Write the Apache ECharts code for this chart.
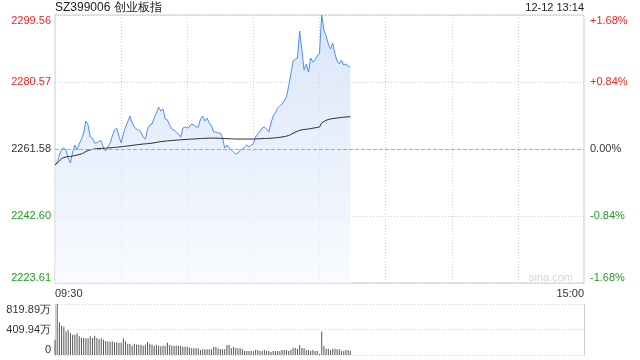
<!DOCTYPE html>
<html><head><meta charset="utf-8">
<script src="https://cdn.jsdelivr.net/npm/echarts@6/dist/echarts.min.js"></script>
<style>html,body{margin:0;padding:0;background:#fff}#c{width:640px;height:360px}</style>
</head><body><div id="c"></div>
<script>
const titleText = 'SZ399006 创业板指';
const dateText = '12-12 13:14';
const watermark = 'sina.com';
const prevClose = 2261.58;
const priceMin = 2223.61;
const priceMax = 2299.56;
const priceTickLabels = ['2223.61', '2242.60', '2261.58', '2280.57', '2299.56'];
const pctTickLabels = ['-1.68%', '-0.84%', '0.00%', '+0.84%', '+1.68%'];
const tickClasses = ['dn', 'dn', 'mid', 'up', 'up'];
const volMax = 819.89;
const volTickLabels = ['0', '409.94万', '819.89万'];
const timeTickLabels = ['09:30', '15:00'];

const price = [
2257.05,2257.90,2259.88,2261.58,2261.86,2261.30,2259.03,2257.61,2260.73,2262.71,
2261.30,2263.00,2264.41,2266.11,2269.52,2268.38,2264.98,2264.70,2263.28,2263.28,
2263.85,2263.85,2261.86,2261.01,2262.15,2263.28,2265.26,2266.96,2267.53,2265.26,
2263.28,2265.83,2267.81,2269.23,2270.93,2268.95,2267.81,2267.25,2266.96,2266.40,
2264.98,2264.41,2267.25,2268.38,2268.67,2270.37,2271.78,2273.48,2272.35,2272.92,
2270.08,2269.80,2268.38,2267.25,2266.96,2266.40,2265.83,2264.98,2267.53,2267.81,
2267.53,2267.81,2268.67,2268.38,2267.81,2267.81,2270.08,2270.93,2269.52,2270.37,
2268.95,2268.10,2266.40,2266.40,2266.11,2266.11,2264.70,2261.86,2262.71,2261.86,
2261.30,2260.73,2260.16,2260.45,2261.30,2261.58,2262.15,2262.71,2262.15,2262.71,
2263.00,2264.98,2265.83,2266.68,2267.53,2267.81,2267.25,2266.40,2268.95,2270.93,
2271.78,2273.20,2273.77,2274.33,2275.18,2276.32,2279.43,2282.84,2286.52,2287.09,
2287.37,2295.02,2289.64,2283.97,2285.67,2283.40,2287.37,2286.24,2286.80,2287.94,
2288.79,2299.56,2295.30,2293.60,2291.34,2289.92,2291.62,2288.50,2286.52,2285.67,
2286.80,2285.39,2285.67,2285.10,2284.82
];
const avgPrice = [
2257.05,2257.61,2258.18,2258.89,2259.17,2259.31,2259.45,2259.45,2259.60,2259.74,
2259.88,2260.02,2260.22,2260.50,2260.87,2261.15,2261.35,2261.49,2261.58,2261.67,
2261.72,2261.75,2261.78,2261.81,2261.86,2261.92,2261.98,2262.03,2262.09,2262.15,
2262.20,2262.29,2262.37,2262.43,2262.52,2262.60,2262.69,2262.77,2262.86,2262.91,
2263.00,2263.05,2263.11,2263.17,2263.25,2263.34,2263.45,2263.56,2263.68,2263.76,
2263.82,2263.88,2263.93,2263.99,2264.05,2264.10,2264.13,2264.19,2264.24,2264.27,
2264.33,2264.36,2264.41,2264.44,2264.47,2264.50,2264.56,2264.58,2264.61,2264.64,
2264.67,2264.67,2264.67,2264.67,2264.64,2264.61,2264.58,2264.56,2264.53,2264.50,
2264.47,2264.44,2264.41,2264.41,2264.41,2264.41,2264.41,2264.41,2264.41,2264.41,
2264.41,2264.44,2264.47,2264.50,2264.53,2264.56,2264.58,2264.61,2264.64,2264.70,
2264.75,2264.81,2264.90,2264.98,2265.09,2265.24,2265.41,2265.69,2266.06,2266.34,
2266.62,2266.88,2267.02,2267.11,2267.19,2267.25,2267.36,2267.47,2267.59,2267.70,
2267.81,2268.95,2269.37,2269.71,2269.94,2270.08,2270.20,2270.28,2270.37,2270.45,
2270.54,2270.59,2270.65,2270.71,2270.73
];
const volume = [
246,819.89,525,472,456,380,397,354,327,327,
348,300,279,273,268,268,300,273,311,273,
252,268,246,225,220,214,220,204,204,198,
198,268,220,182,177,150,182,166,161,166,
150,166,214,182,166,150,166,150,139,150,
150,198,161,150,150,150,150,150,134,134,
134,118,107,107,107,107,80,91,91,91,
91,91,129,129,107,96,91,91,161,161,
107,129,113,107,107,91,64,64,64,64,
64,80,80,64,64,80,64,64,48,64,
64,64,64,80,80,80,64,80,113,113,
102,161,113,113,80,80,64,80,64,64,
16,375,145,102,102,80,102,102,91,91,
64,64,80,80,64
];

// 241 minute slots: 09:30..11:30, 13:01..15:00
const times = [];
function pad(n){return (n<10?'0':'')+n;}
for (let m = 9*60+30; m <= 11*60+30; m++) times.push(pad(Math.floor(m/60))+':'+pad(m%60));
for (let m = 13*60+1; m <= 15*60; m++) times.push(pad(Math.floor(m/60))+':'+pad(m%60));

const RED = '#f22222', GREEN = '#1e9e1e', DARK = '#333333';
const FONT = '"Liberation Sans", Arial, sans-serif';
const richStyles = {
  up: {color: RED, fontSize: 11, fontFamily: FONT},
  mid: {color: DARK, fontSize: 11, fontFamily: FONT},
  dn: {color: GREEN, fontSize: 11, fontFamily: FONT}
};
const priceInterval = (priceMax - priceMin) / 4;

const chart = echarts.init(document.getElementById('c'), null, {renderer: 'canvas'});
chart.setOption({
  animation: false,
  backgroundColor: '#fff',
  title: [
    {text: titleText, left: 55, top: 2, padding: 0, textStyle: {fontSize: 12, fontWeight: 'normal', color: '#222', fontFamily: FONT}},
    {text: dateText, right: 56, top: 2, padding: 0, textStyle: {fontSize: 11, fontWeight: 'normal', color: '#222', fontFamily: FONT}}
  ],
  graphic: [
    {type: 'text', right: 67, top: 272, style: {text: watermark, fontSize: 11, fill: '#d4d4d4', fontFamily: FONT}}
  ],
  grid: [
    {left: 55, right: 56, top: 15, height: 268, show: true, borderColor: '#cccccc', borderWidth: 1},
    {left: 55, right: 56, top: 304, height: 51}
  ],
  xAxis: [
    {
      type: 'category', gridIndex: 0, data: times, boundaryGap: false,
      axisLine: {show: false}, axisTick: {show: false},
      axisLabel: {
        margin: 5, fontSize: 11, color: DARK, fontFamily: FONT,
        interval: (i) => i === 0 || i === times.length - 1,
        formatter: (v, i) => i === 0 ? timeTickLabels[0] : timeTickLabels[1],
        alignMinLabel: 'left', alignMaxLabel: 'right'
      },
      splitLine: {show: true, interval: (i) => i % 30 === 0 && i > 0 && i < 240, lineStyle: {color: '#cccccc', type: [1, 2], width: 1}}
    },
    {
      type: 'category', gridIndex: 1, data: times, boundaryGap: false,
      axisLine: {show: false}, axisTick: {show: false}, axisLabel: {show: false},
      splitLine: {show: false}
    }
  ],
  yAxis: [
    {
      type: 'value', gridIndex: 0, position: 'left', min: priceMin, max: priceMax, interval: priceInterval,
      axisLine: {show: false}, axisTick: {show: false},
      axisLabel: {
        margin: 4, formatter: (v, i) => '{' + tickClasses[i] + '|' + priceTickLabels[i] + '}', rich: richStyles,
        verticalAlignMinLabel: 'bottom', verticalAlignMaxLabel: 'top'
      },
      splitLine: {show: true, lineStyle: {color: '#cccccc', type: [1, 2]}}
    },
    {
      type: 'value', gridIndex: 0, position: 'right', min: priceMin, max: priceMax, interval: priceInterval,
      axisLine: {show: false}, axisTick: {show: false},
      axisLabel: {
        margin: 6, formatter: (v, i) => '{' + tickClasses[i] + '|' + pctTickLabels[i] + '}', rich: richStyles,
        verticalAlignMinLabel: 'bottom', verticalAlignMaxLabel: 'top'
      },
      splitLine: {show: false}
    },
    {
      type: 'value', gridIndex: 1, position: 'left', min: 0, max: volMax, interval: volMax / 2,
      axisLine: {show: true, lineStyle: {color: '#cccccc'}}, axisTick: {show: false},
      axisLabel: {
        margin: 4, fontSize: 11, color: DARK, fontFamily: FONT,
        formatter: (v, i) => volTickLabels[i],
        verticalAlignMinLabel: 'bottom', verticalAlignMaxLabel: 'top'
      },
      splitLine: {show: true, lineStyle: {color: '#cccccc', type: [1, 2]}}
    },
    {
      type: 'value', gridIndex: 1, position: 'right', min: 0, max: volMax, interval: volMax / 2,
      axisLine: {show: true, lineStyle: {color: '#cccccc'}}, axisTick: {show: false},
      axisLabel: {show: false}, splitLine: {show: false}
    }
  ],
  series: [
    {
      type: 'line', xAxisIndex: 0, yAxisIndex: 0, data: price, symbol: 'none', smooth: false,
      lineStyle: {color: '#4d8ff0', width: 1},
      areaStyle: {color: new echarts.graphic.LinearGradient(0, 0, 0, 1, [
        {offset: 0, color: '#c9dbf7'}, {offset: 1, color: '#f6f9fe'}
      ])},
      markLine: {
        silent: true, symbol: 'none', label: {show: false},
        lineStyle: {color: '#aaaaaa', type: [4, 2], width: 1},
        data: [{yAxis: prevClose}]
      },
      z: 2
    },
    {
      type: 'line', xAxisIndex: 0, yAxisIndex: 0, data: avgPrice, symbol: 'none',
      lineStyle: {color: '#2a2a2a', width: 1}, z: 3
    },
    {
      type: 'bar', xAxisIndex: 1, yAxisIndex: 2, data: volume, barWidth: 1,
      itemStyle: {color: '#555555'}
    }
  ]
});
</script>
</body></html>
